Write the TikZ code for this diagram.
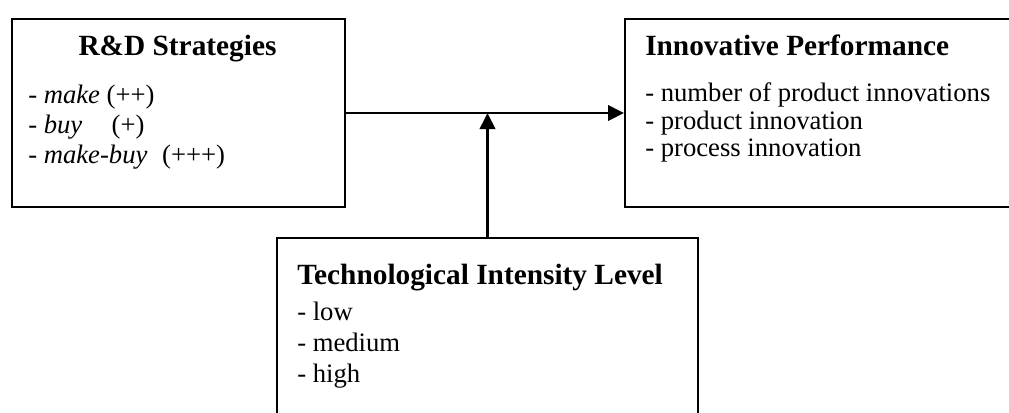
\documentclass[tikz,border=0pt]{standalone}
\usepackage{fontspec}
\setmainfont{Liberation Serif}
\usetikzlibrary{arrows.meta}
\begin{document}
\begin{tikzpicture}[x=0.75pt,y=-0.75pt,
  boxst/.style={draw,line width=1.5pt,rectangle,anchor=north west,inner sep=0pt},
  titlest/.style={inner sep=0pt,font=\fontsize{22}{26}\selectfont\bfseries},
  bodyst/.style={inner sep=0pt,anchor=base west,font=\fontsize{20}{22}\selectfont},
  arr/.style={line width=2pt,-{Triangle[length=12pt,width=11.5pt]}}]
\useasboundingbox (0,0) rectangle (1009,412);
\clip (0,0) rectangle (1009,412);
% boxes
\node[boxst,minimum width=249.75pt,minimum height=141pt] (la) at (11,18) {};
\node[boxst,minimum width=315pt,minimum height=141pt] (ra) at (624,18) {};
\node[boxst,minimum width=315.75pt,minimum height=150pt] (bo) at (276,237) {};
% left texts
\node[titlest,anchor=base] (lt) at (177.5,55) {R\&D Strategies};
\node[bodyst] (l1) at (28,103) {- \textit{make} (++)};
\node[bodyst] (l2) at (28,133) {- \textit{buy}\hspace{22pt}(+)};
\node[bodyst] (l3) at (28,163) {- \textit{make-buy}\hspace{11pt}(+++)};
% right texts
\node[titlest,anchor=base west] (rt) at (645,55) {Innovative Performance};
\node[bodyst] (r1) at (645,101.5) {- number of product innovations};
\node[bodyst] (r2) at (645,129) {- product innovation};
\node[bodyst] (r3) at (645,156.5) {- process innovation};
% bottom texts
\node[titlest,anchor=base west] (bt) at (297,284) {Technological Intensity Level};
\node[bodyst] (b1) at (297,320.5) {- low};
\node[bodyst] (b2) at (297,351.5) {- medium};
\node[bodyst] (b3) at (297,382) {- high};
% connectors
\coordinate (j) at (bo.north |- la.east);
\draw[arr] (la.east) -- (ra.west |- la.east);
\draw[arr] (bo.north) -- (j);
\end{tikzpicture}
\end{document}
